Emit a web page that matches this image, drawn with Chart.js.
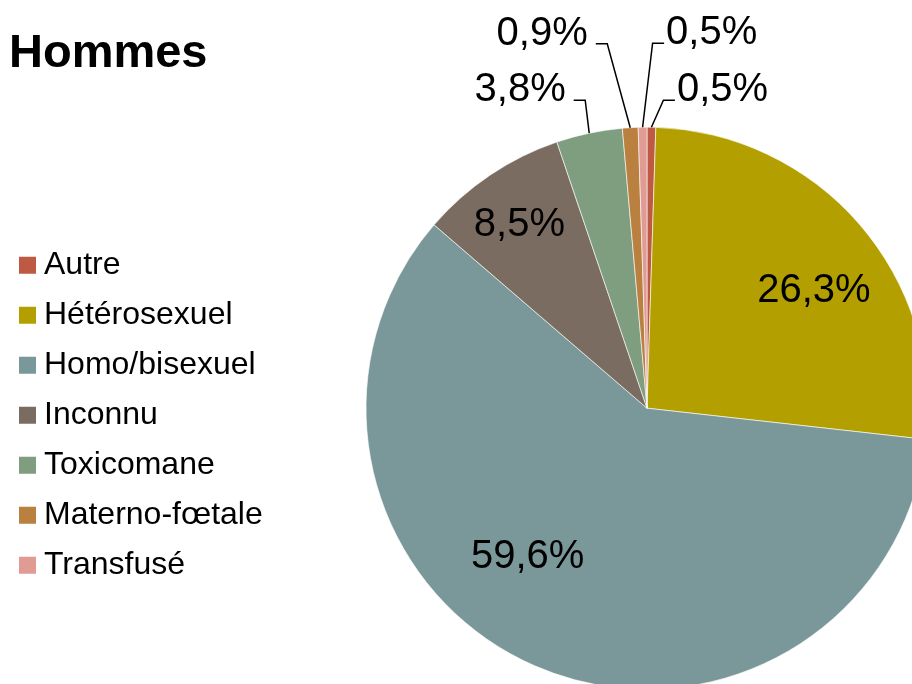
<!DOCTYPE html>
<html lang="fr">
<head>
<meta charset="utf-8">
<title>Hommes</title>
<script src="https://cdn.jsdelivr.net/npm/chart.js@4.4.1/dist/chart.umd.min.js"></script>
<style>
  html, body { margin: 0; padding: 0; overflow: hidden; background: #fff; }
  /* wrapper is larger than the window: the pie runs off the right and bottom edges */
  #wrap { position: absolute; left: 0; top: 0; width: 1028px; height: 728px; }
</style>
</head>
<body>
<div id="wrap"><canvas id="chart"></canvas></div>
<script>
const chartTitle = 'Hommes'
const categories = ['Autre', 'Hétérosexuel', 'Homo/bisexuel', 'Inconnu', 'Toxicomane', 'Materno-fœtale', 'Transfusé']
const shares = [0.5, 26.3, 59.6, 8.5, 3.8, 0.9, 0.5]
const sliceColors = ['#BE5A43', '#B3A000', '#7A9899', '#7B6C62', '#7F9D7F', '#B98040', '#E09B94']

// where each percentage goes: inside the slice (radial fraction + angle nudge in degrees)
// or outside with a leader line (elbow offset from the rim point, in px)
const labelPlacement = {
  'Autre': { elbow: [12, -27], side: 'right' },
  'Hétérosexuel': { inside: true, radial: 0.725, turn: 5.9 },
  'Homo/bisexuel': { inside: true, radial: 0.68, turn: 15.1 },
  'Inconnu': { inside: true, radial: 0.796, turn: -0.8 },
  'Toxicomane': { elbow: [-4, -33], side: 'left' },
  'Materno-fœtale': { elbow: [-23, -84], side: 'left' },
  'Transfusé': { elbow: [10, -84], side: 'right' },
}

const FONT = '"Liberation Sans", Arial, sans-serif'
Chart.defaults.font.family = FONT
Chart.defaults.color = '#000'

function formatShare(v) {
  return v.toFixed(1).replace('.', ',') + '%'
}

/**
 * Draws the percentage labels, with leader lines for the thin slices.
 */
const pieLabelsPlugin = {
  id: 'pieLabels',
  afterDatasetsDraw(chart) {
    const { ctx } = chart
    const meta = chart.getDatasetMeta(0)
    ctx.save()
    ctx.font = '40px ' + FONT
    ctx.fillStyle = '#000'
    ctx.strokeStyle = '#000'
    ctx.lineWidth = 1.5
    ctx.textBaseline = 'middle'

    meta.data.forEach((arc, i) => {
      const place = labelPlacement[categories[i]]
      if (!place) return
      const text = formatShare(shares[i])
      const { x, y, startAngle, endAngle, outerRadius } =
        arc.getProps(['x', 'y', 'startAngle', 'endAngle', 'outerRadius'], true)
      const mid = (startAngle + endAngle) / 2

      if (place.inside) {
        const a = mid + place.turn * Math.PI / 180
        const r = outerRadius * place.radial
        ctx.textAlign = 'center'
        ctx.fillText(text, x + r * Math.cos(a), y + r * Math.sin(a))
        return
      }

      // rim point -> elbow -> short horizontal stub -> text
      const ax = x + outerRadius * Math.cos(mid)
      const ay = y + outerRadius * Math.sin(mid)
      const ex = ax + place.elbow[0]
      const ey = ay + place.elbow[1]
      const dir = place.side === 'left' ? -1 : 1
      const sx = ex + dir * 11.5

      ctx.beginPath()
      ctx.moveTo(ax, ay)
      ctx.lineTo(ex, ey)
      ctx.lineTo(sx, ey)
      ctx.stroke()

      ctx.textAlign = dir < 0 ? 'right' : 'left'
      ctx.fillText(text, sx + (dir < 0 ? -8 : 2), ey - 10)
    })
    ctx.restore()
  },
}

new Chart(document.getElementById('chart'), {
  type: 'pie',
  data: {
    labels: categories,
    datasets: [{
      data: shares,
      backgroundColor: sliceColors,
      borderColor: 'rgba(255,255,255,0.6)',
      borderWidth: 1,
      radius: 281,
      hoverOffset: 0,
    }],
  },
  options: {
    responsive: true,
    maintainAspectRatio: false,
    animation: false,
    events: [],
    layout: { padding: { left: 9, top: 0, right: 0, bottom: 0 } },
    plugins: {
      tooltip: { enabled: false },
      title: {
        display: true,
        text: chartTitle,
        align: 'start',
        color: '#000',
        font: { family: FONT, size: 47, weight: 'bold', lineHeight: 1.2 },
        padding: { top: 26, bottom: 6 },
      },
      legend: {
        position: 'left',
        fullSize: false,
        maxWidth: 257,
        // empty title only used to push the entries down a little
        title: { display: true, text: '', font: { size: 1, lineHeight: 1 }, padding: { top: 13, bottom: 0 } },
        labels: {
          usePointStyle: true,
          pointStyle: 'rect',
          boxWidth: 1,
          boxHeight: 17,
          padding: 18,
          color: '#000',
          font: { family: FONT, size: 32 },
          generateLabels(chart) {
            const base = Chart.overrides.pie.plugins.legend.labels.generateLabels(chart)
            return base.map(item => ({ ...item, lineWidth: 0 }))
          },
        },
      },
    },
  },
  plugins: [pieLabelsPlugin],
})
</script>
</body>
</html>
